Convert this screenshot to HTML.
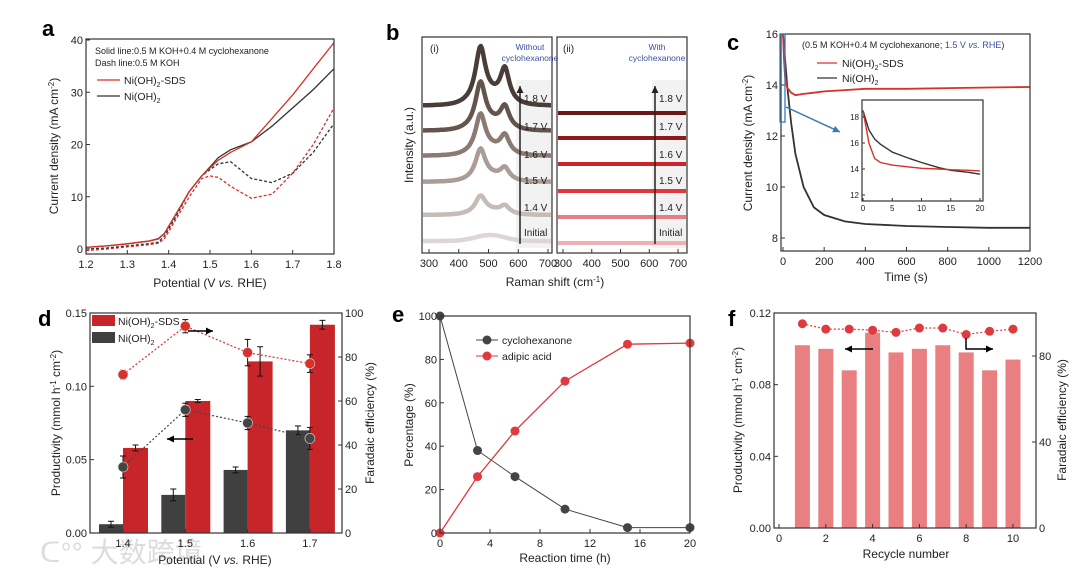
<!DOCTYPE html>
<html><head><meta charset="utf-8">
<style>
html,body{margin:0;padding:0;background:#fff;}
svg{display:block;font-family:"Liberation Sans","Noto Sans CJK SC",sans-serif;}
</style></head>
<body>
<svg id="fig" width="1080" height="577" viewBox="0 0 1080 577" xmlns="http://www.w3.org/2000/svg">
<defs>
<clipPath id="clipB1"><rect x="423" y="38" width="128" height="214"/></clipPath>
<clipPath id="clipB2"><rect x="558" y="38" width="128" height="214"/></clipPath>
</defs>
<text x="40" y="562" font-size="28" fill="#dcdcdc">ᑕ°° 大数跨境</text>
</svg>
<script>
// ---------- Panel a data ----------
const aX = [1.2,1.25,1.3,1.35,1.375,1.39,1.42,1.45,1.48,1.5,1.52,1.55,1.6,1.65,1.7,1.75,1.8];
const aSdsSolid = [0.3,0.6,1.0,1.5,1.9,3,7,11,14,15.5,17,18.5,20.5,25,29.5,34.5,39.5];
const aNiSolid = [0.3,0.6,1.0,1.5,2.0,3,7,11,14,15.7,17.5,19,20.5,23.5,27,30.5,34.5];
const aSdsDash = [-0.3,0,0.4,0.8,1.1,2,6,10,13.5,14,13.7,12,9.7,10.5,14.5,20,27];
const aNiDash = [0,0.2,0.6,1.0,1.3,2.5,6.5,11,14,15.2,16.3,16.7,13.5,12.7,14.5,18.5,24];
const aXTicks = [1.2,1.3,1.4,1.5,1.6,1.7,1.8];
const aYTicks = [0,10,20,30,40];
// ---------- Panel b data ----------
const bLabels = ["1.8 V","1.7 V","1.6 V","1.5 V","1.4 V","Initial"];
const bBase1 = [147,122,97,71,38,12];
const bPeak1 = [52,43,37,29,16,0];
const bPeak2 = [32,20,17,11,7,0];
const bBroad = [8,7,6,5,4,6];
const bBase2 = [140,115,89,62,36,10];
const bXTicks = [300,400,500,600,700];
// ---------- Panel c data ----------
const cT = [0,5,10,20,40,60,100,150,200,300,400,600,800,1000,1200];
const cSds = [16,15,14.3,13.9,13.7,13.6,13.65,13.7,13.75,13.8,13.85,13.85,13.88,13.9,13.92];
const cNi = [16,15.5,15,14,12.5,11.3,10,9.2,8.9,8.65,8.55,8.47,8.43,8.4,8.4];
const cInT = [0,1,2,3,5,8,10,13,15,18,20];
const cInSds = [18.5,16,14.8,14.5,14.3,14.15,14.05,14,13.95,13.9,13.85];
const cInNi = [18.5,17,16.3,15.9,15.3,14.8,14.5,14.1,13.9,13.75,13.6];
const cXTicks = [0,200,400,600,800,1000,1200];
const cYTicks = [8,10,12,14,16];
// ---------- Panel d data ----------
const dCats = ["1.4","1.5","1.6","1.7"];
const dNi = [0.006,0.026,0.043,0.070];
const dNiErr = [0.002,0.004,0.002,0.003];
const dSds = [0.058,0.090,0.117,0.142];
const dSdsErr = [0.002,0.001,0.010,0.003];
const dFeSds = [72,94,82,77];
const dFeSdsErr = [2,3,6,4];
const dFeNi = [30,56,50,43];
const dFeNiErr = [5,3,3,5];
const dYTicks = [0,0.05,0.10,0.15];
const dY2Ticks = [0,20,40,60,80,100];
// ---------- Panel e data ----------
const eT = [0,3,6,10,15,20];
const eCyc = [100,38,26,11,2.5,2.5];
const eAdi = [0,26,47,70,87,87.5];
const eXTicks = [0,4,8,12,16,20];
const eYTicks = [0,20,40,60,80,100];
// ---------- Panel f data ----------
const fN = [1,2,3,4,5,6,7,8,9,10];
const fProd = [0.102,0.100,0.088,0.109,0.098,0.100,0.102,0.098,0.088,0.094];
const fFe = [95,92.5,92.5,92,91,93,93,90,91.5,92.5];
const fXTicks = [0,2,4,6,8,10];
const fYTicks = [0,0.04,0.08,0.12];
const fY2Ticks = [0,40,80];

const svg = document.getElementById('fig');
const NS = 'http://www.w3.org/2000/svg';
function mk(tag, attrs, name, parent) {
  const el = document.createElementNS(NS, tag);
  for (const k in attrs) el.setAttribute(k, attrs[k]);
  
  
  (parent || svg).appendChild(el);
  return el;
}
function txt(x, y, s, size, name, extra) {
  const t = mk('text', Object.assign({x: x, y: y, 'font-size': size, fill: '#222'}, extra || {}), name);
  t.innerHTML = s;
  return t;
}
function lin(d0, d1, r0, r1) { return v => r0 + (v - d0) / (d1 - d0) * (r1 - r0); }
function pts(xs, ys, sx, sy) { return xs.map((x, i) => sx(x).toFixed(1) + ',' + sy(ys[i]).toFixed(1)).join(' '); }
function box(x0, y0, x1, y1, name) {
  mk('rect', {x: x0, y: y0, width: x1 - x0, height: y1 - y0, fill: 'none', stroke: '#333', 'stroke-width': 1.2}, name);
}
function xticks(ticks, sx, y, name, fmt, size) {
  ticks.forEach(t => {
    mk('line', {x1: sx(t), x2: sx(t), y1: y, y2: y - 4, stroke: '#333'}, name + '-tick');
    txt(sx(t), y + 14, fmt ? fmt(t) : t, size || 11, name + '-label', {'text-anchor': 'middle'});
  });
}
function yticks(ticks, sy, x, name, fmt, right, size) {
  ticks.forEach(t => {
    mk('line', {x1: x, x2: right ? x - 4 : x + 4, y1: sy(t), y2: sy(t), stroke: '#333'}, name + '-tick');
    txt(right ? x + 3 : x - 3, sy(t) + 4, fmt ? fmt(t) : t, size || 11, name + '-label', {'text-anchor': right ? 'start' : 'end'});
  });
}
function ytitle(x, y, s, name) {
  txt(0, 0, s, 12, name, {'text-anchor': 'middle', transform: 'translate(' + x + ',' + y + ') rotate(-90)'});
}
function arrow(x1, y1, x2, y2, color, name) {
  mk('line', {x1: x1, y1: y1, x2: x2, y2: y2, stroke: color, 'stroke-width': 1.5}, name);
  const a = Math.atan2(y2 - y1, x2 - x1), L = 7, W = 3.5;
  const p = [[x2, y2], [x2 - L * Math.cos(a) + W * Math.sin(a), y2 - L * Math.sin(a) - W * Math.cos(a)], [x2 - L * Math.cos(a) - W * Math.sin(a), y2 - L * Math.sin(a) + W * Math.cos(a)]];
  mk('polygon', {points: p.map(q => q.join(',')).join(' '), fill: color}, name + '-head');
}
const RED = '#d9302a', BLK = '#333';

// ===== Panel a =====
{
  const sx = lin(1.2, 1.8, 86, 334), sy = lin(0, 40, 249, 40);
  txt(42, 36, 'a', 22, 'panel-a-label', {'font-weight': 'bold', fill: '#000'});
  mk('polyline', {points: pts(aX, aSdsDash, sx, sy), fill: 'none', stroke: RED, 'stroke-width': 1.3, 'stroke-dasharray': '3,2'}, 'sds-dash-line');
  mk('polyline', {points: pts(aX, aNiDash, sx, sy), fill: 'none', stroke: BLK, 'stroke-width': 1.3, 'stroke-dasharray': '3,2'}, 'ni-dash-line');
  mk('polyline', {points: pts(aX, aNiSolid, sx, sy), fill: 'none', stroke: BLK, 'stroke-width': 1.3}, 'ni-solid-line');
  mk('polyline', {points: pts(aX, aSdsSolid, sx, sy), fill: 'none', stroke: RED, 'stroke-width': 1.3}, 'sds-solid-line');
  box(86, 39, 334, 254, 'panel-a-axes');
  xticks(aXTicks, sx, 254, 'a-x', t => t.toFixed(1));
  yticks(aYTicks, sy, 86, 'a-y');
  txt(210, 287, 'Potential (V <tspan font-style="italic">vs.</tspan> RHE)', 12, 'a-x-title', {'text-anchor': 'middle'});
  ytitle(58, 146, 'Current density (mA cm<tspan dy="-4" font-size="8">-2</tspan><tspan dy="4">)</tspan>', 'a-y-title');
  txt(95, 54, 'Solid line:0.5 M KOH+0.4 M cyclohexanone', 9, 'a-note-solid');
  txt(95, 66, 'Dash line:0.5 M KOH', 9, 'a-note-dash');
  mk('line', {x1: 97, x2: 120, y1: 80, y2: 80, stroke: RED, 'stroke-width': 1.3}, 'a-legend-sds-line');
  txt(124, 84, 'Ni(OH)<tspan font-size="7" dy="3">2</tspan><tspan dy="-3">-SDS</tspan>', 10.5, 'a-legend-sds');
  mk('line', {x1: 97, x2: 120, y1: 96, y2: 96, stroke: BLK, 'stroke-width': 1.3}, 'a-legend-ni-line');
  txt(124, 100, 'Ni(OH)<tspan font-size="7" dy="3">2</tspan>', 10.5, 'a-legend-ni');
}

// ===== Panel b =====
{
  txt(386, 40, 'b', 22, 'panel-b-label', {'font-weight': 'bold', fill: '#000'});
  const sy = lin(0, 220, 253, 33);
  const sx1 = lin(300, 700, 429, 548), sx2 = lin(300, 700, 563, 678);
  mk('rect', {x: 516, y: 80, width: 36, height: 168, fill: '#f2f2f2'}, 'b1-label-shade');
  mk('rect', {x: 652, y: 80, width: 35, height: 168, fill: '#f2f2f2'}, 'b2-label-shade');
  const g1 = mk('g', {'clip-path': 'url(#clipB1)'}, 'b1-spectra');
  const g2 = mk('g', {'clip-path': 'url(#clipB2)'}, 'b2-spectra');
  const cols1 = ['#4a3c36', '#63554e', '#8a7a72', '#ab9d96', '#c5bcb7', '#dcd7d4'];
  const cols2 = ['#6e1717', '#8e1b1b', '#c8262a', '#e0383c', '#e77f82', '#efb0b2'];
  const grid = [];
  for (let w = 270; w <= 730; w += 4) grid.push(w);
  bBase1.forEach((b, i) => {
    const ys = grid.map(w => b + bPeak1[i] / (1 + Math.pow((w - 473) / 20, 2)) + bPeak2[i] / (1 + Math.pow((w - 555) / 18, 2)) + bBroad[i] * Math.exp(-Math.pow((w - 505) / 70, 2)));
    mk('polyline', {points: pts(grid, ys, sx1, sy), fill: 'none', stroke: cols1[i], 'stroke-width': 4.5, 'stroke-linecap': 'round', 'stroke-linejoin': 'round'}, 'spectrum-i-' + i, g1);
  });
  bBase2.forEach((b, i) => {
    const ys = grid.map(() => b);
    mk('polyline', {points: pts(grid, ys, sx2, sy), fill: 'none', stroke: cols2[i], 'stroke-width': 4}, 'spectrum-ii-' + i, g2);
  });
  const labY = [98, 126, 154, 180, 207, 232];
  bLabels.forEach((l, i) => {
    txt(524, labY[i] + 4, l, 10, 'b1-label');
    txt(659, labY[i] + 4, l, 10, 'b2-label');
  });
  arrow(520, 244, 520, 86, '#222', 'b1-arrow');
  arrow(655, 244, 655, 86, '#222', 'b2-arrow');
  box(422, 37, 552, 253, 'panel-b1-axes');
  box(557, 37, 687, 253, 'panel-b2-axes');
  xticks(bXTicks, sx1, 253, 'b1-x');
  xticks(bXTicks, sx2, 253, 'b2-x');
  txt(430, 52, '(i)', 10, 'b1-tag');
  txt(563, 52, '(ii)', 10, 'b2-tag');
  txt(530, 50, 'Without', 8.5, 'b1-cond1', {'text-anchor': 'middle', fill: '#3b4fa0'});
  txt(530, 61, 'cyclohexanone', 8.5, 'b1-cond2', {'text-anchor': 'middle', fill: '#3b4fa0'});
  txt(657, 50, 'With', 8.5, 'b2-cond1', {'text-anchor': 'middle', fill: '#3b4fa0'});
  txt(657, 61, 'cyclohexanone', 8.5, 'b2-cond2', {'text-anchor': 'middle', fill: '#3b4fa0'});
  txt(555, 286, 'Raman shift (cm<tspan dy="-4" font-size="8">-1</tspan><tspan dy="4">)</tspan>', 12, 'b-x-title', {'text-anchor': 'middle'});
  ytitle(413, 145, 'Intensity (a.u.)', 'b-y-title');
}

// ===== Panel c =====
{
  txt(727, 50, 'c', 22, 'panel-c-label', {'font-weight': 'bold', fill: '#000'});
  const sx = lin(0, 1200, 783, 1030), sy = lin(8, 16, 238, 34);
  mk('polyline', {points: pts(cT, cNi, sx, sy), fill: 'none', stroke: BLK, 'stroke-width': 1.8}, 'c-ni-line');
  mk('polyline', {points: pts(cT, cSds, sx, sy), fill: 'none', stroke: RED, 'stroke-width': 1.8}, 'c-sds-line');
  box(781, 34, 1030, 251, 'panel-c-axes');
  xticks(cXTicks, sx, 251, 'c-x');
  yticks(cYTicks, sy, 781, 'c-y');
  mk('rect', {x: 780, y: 34, width: 5, height: 88, fill: 'none', stroke: '#3a78b5', 'stroke-width': 1.3}, 'c-zoom-box');
  arrow(786, 107, 840, 132, '#3a78b5', 'c-zoom-arrow');
  txt(802, 48, '(0.5 M KOH+0.4 M cyclohexanone; <tspan fill="#3b4fa0">1.5 V <tspan font-style="italic">vs.</tspan> RHE</tspan>)', 9, 'c-condition');
  mk('line', {x1: 817, x2: 837, y1: 63, y2: 63, stroke: RED, 'stroke-width': 1.3}, 'c-legend-sds-line');
  txt(842, 67, 'Ni(OH)<tspan font-size="7" dy="3">2</tspan><tspan dy="-3">-SDS</tspan>', 10.5, 'c-legend-sds');
  mk('line', {x1: 817, x2: 837, y1: 78, y2: 78, stroke: BLK, 'stroke-width': 1.3}, 'c-legend-ni-line');
  txt(842, 82, 'Ni(OH)<tspan font-size="7" dy="3">2</tspan>', 10.5, 'c-legend-ni');
  const ix = lin(0, 20, 863, 980), iy = lin(12, 18, 195, 117);
  mk('rect', {x: 862, y: 100, width: 121, height: 101, fill: '#fff'}, 'inset-bg');
  mk('polyline', {points: pts(cInT, cInNi, ix, iy), fill: 'none', stroke: BLK, 'stroke-width': 1.4}, 'inset-ni-line');
  mk('polyline', {points: pts(cInT, cInSds, ix, iy), fill: 'none', stroke: RED, 'stroke-width': 1.4}, 'inset-sds-line');
  box(862, 100, 983, 201, 'inset-axes');
  [0, 5, 10, 15, 20].forEach(t => {
    mk('line', {x1: ix(t), x2: ix(t), y1: 201, y2: 198, stroke: '#333'}, 'inset-x-tick');
    txt(ix(t), 211, t, 8, 'inset-x-label', {'text-anchor': 'middle'});
  });
  [12, 14, 16, 18].forEach(t => {
    mk('line', {x1: 862, x2: 865, y1: iy(t), y2: iy(t), stroke: '#333'}, 'inset-y-tick');
    txt(859, iy(t) + 3, t, 8, 'inset-y-label', {'text-anchor': 'end'});
  });
  txt(906, 281, 'Time (s)', 12, 'c-x-title', {'text-anchor': 'middle'});
  ytitle(752, 143, 'Current density (mA cm<tspan dy="-4" font-size="8">-2</tspan><tspan dy="4">)</tspan>', 'c-y-title');
}

// ===== Panel d =====
{
  txt(38, 326, 'd', 22, 'panel-d-label', {'font-weight': 'bold', fill: '#000'});
  const sy = lin(0, 0.15, 533, 313), sy2 = lin(0, 100, 533, 313);
  const cx = i => 123 + i * 62.3;
  dCats.forEach((c, i) => {
    const x = cx(i);
    mk('rect', {x: x - 24, y: sy(dNi[i]), width: 24, height: 533 - sy(dNi[i]), fill: '#404040'}, 'bar-ni-' + c);
    mk('rect', {x: x, y: sy(dSds[i]), width: 25, height: 533 - sy(dSds[i]), fill: '#c8252a'}, 'bar-sds-' + c);
    [[x - 12, dNi[i], dNiErr[i]], [x + 12.5, dSds[i], dSdsErr[i]]].forEach(e => {
      mk('line', {x1: e[0], x2: e[0], y1: sy(e[1] - e[2]), y2: sy(e[1] + e[2]), stroke: '#111'}, 'bar-error');
      mk('line', {x1: e[0] - 3, x2: e[0] + 3, y1: sy(e[1] + e[2]), y2: sy(e[1] + e[2]), stroke: '#111'}, 'bar-error-cap');
      mk('line', {x1: e[0] - 3, x2: e[0] + 3, y1: sy(e[1] - e[2]), y2: sy(e[1] - e[2]), stroke: '#111'}, 'bar-error-cap');
    });
  });
  const xs = dCats.map((c, i) => i);
  mk('polyline', {points: pts(xs, dFeSds, cx, sy2), fill: 'none', stroke: RED, 'stroke-width': 1.2, 'stroke-dasharray': '2,2'}, 'fe-sds-line');
  mk('polyline', {points: pts(xs, dFeNi, cx, sy2), fill: 'none', stroke: '#444', 'stroke-width': 1.2, 'stroke-dasharray': '2,2'}, 'fe-ni-line');
  [[dFeSds, dFeSdsErr, RED, 'fe-sds'], [dFeNi, dFeNiErr, '#444', 'fe-ni']].forEach(s => {
    s[0].forEach((v, i) => {
      mk('line', {x1: cx(i), x2: cx(i), y1: sy2(v - s[1][i]), y2: sy2(v + s[1][i]), stroke: '#111'}, s[3] + '-error');
      mk('line', {x1: cx(i) - 3, x2: cx(i) + 3, y1: sy2(v + s[1][i]), y2: sy2(v + s[1][i]), stroke: '#111'}, s[3] + '-error-cap');
      mk('line', {x1: cx(i) - 3, x2: cx(i) + 3, y1: sy2(v - s[1][i]), y2: sy2(v - s[1][i]), stroke: '#111'}, s[3] + '-error-cap');
      mk('circle', {cx: cx(i), cy: sy2(v), r: 5, fill: s[2], stroke: '#ddd', 'stroke-width': 0.6}, s[3] + '-point');
    });
  });
  box(90, 313, 342, 533, 'panel-d-axes');
  dCats.forEach((c, i) => {
    mk('line', {x1: cx(i), x2: cx(i), y1: 533, y2: 529, stroke: '#333'}, 'd-x-tick');
    txt(cx(i), 547, c, 11, 'd-x-label', {'text-anchor': 'middle'});
  });
  yticks(dYTicks, sy, 90, 'd-y', t => t.toFixed(2));
  yticks(dY2Ticks, sy2, 342, 'd-y2', null, true);
  mk('rect', {x: 92, y: 315, width: 23, height: 11, fill: '#c8252a'}, 'd-legend-sds-swatch');
  txt(118, 325, 'Ni(OH)<tspan font-size="7" dy="3">2</tspan><tspan dy="-3">-SDS</tspan>', 10.5, 'd-legend-sds');
  mk('rect', {x: 92, y: 332, width: 23, height: 11, fill: '#404040'}, 'd-legend-ni-swatch');
  txt(118, 342, 'Ni(OH)<tspan font-size="7" dy="3">2</tspan>', 10.5, 'd-legend-ni');
  arrow(188, 331, 213, 331, '#000', 'd-arrow-right');
  arrow(193, 439, 167, 439, '#000', 'd-arrow-left');
  txt(215, 564, 'Potential (V <tspan font-style="italic">vs.</tspan> RHE)', 12, 'd-x-title', {'text-anchor': 'middle'});
  ytitle(60, 423, 'Productivity (mmol h<tspan dy="-4" font-size="8">-1</tspan><tspan dy="4"> cm</tspan><tspan dy="-4" font-size="8">-2</tspan><tspan dy="4">)</tspan>', 'd-y-title');
  txt(0, 0, 'Faradaic efficiency (%)', 12, 'd-y2-title', {'text-anchor': 'middle', transform: 'translate(374,423) rotate(-90)'});
}

// ===== Panel e =====
{
  txt(392, 322, 'e', 22, 'panel-e-label', {'font-weight': 'bold', fill: '#000'});
  const sx = lin(0, 20, 440, 690), sy = lin(0, 100, 533, 316);
  mk('polyline', {points: pts(eT, eCyc, sx, sy), fill: 'none', stroke: '#444', 'stroke-width': 1}, 'e-cyc-line');
  mk('polyline', {points: pts(eT, eAdi, sx, sy), fill: 'none', stroke: '#e0393e', 'stroke-width': 1.3}, 'e-adi-line');
  eT.forEach((t, i) => {
    mk('circle', {cx: sx(t), cy: sy(eCyc[i]), r: 4.5, fill: '#444'}, 'e-cyc-point');
    mk('circle', {cx: sx(t), cy: sy(eAdi[i]), r: 4.5, fill: '#e0393e'}, 'e-adi-point');
  });
  box(440, 316, 690, 533, 'panel-e-axes');
  xticks(eXTicks, sx, 533, 'e-x');
  yticks(eYTicks, sy, 440, 'e-y');
  mk('line', {x1: 476, x2: 498, y1: 340, y2: 340, stroke: '#444'}, 'e-legend-cyc-line');
  mk('circle', {cx: 487, cy: 340, r: 4.5, fill: '#444'}, 'e-legend-cyc-marker');
  txt(502, 344, 'cyclohexanone', 10.5, 'e-legend-cyc');
  mk('line', {x1: 476, x2: 498, y1: 356, y2: 356, stroke: '#e0393e'}, 'e-legend-adi-line');
  mk('circle', {cx: 487, cy: 356, r: 4.5, fill: '#e0393e'}, 'e-legend-adi-marker');
  txt(502, 360, 'adipic acid', 10.5, 'e-legend-adi');
  txt(565, 562, 'Reaction time (h)', 12, 'e-x-title', {'text-anchor': 'middle'});
  ytitle(413, 425, 'Percentage (%)', 'e-y-title');
}

// ===== Panel f =====
{
  txt(728, 326, 'f', 22, 'panel-f-label', {'font-weight': 'bold', fill: '#000'});
  const sx = lin(0, 10, 779, 1013), sy = lin(0, 0.12, 528, 313), sy2 = lin(0, 100, 528, 313);
  fN.forEach((n, i) => {
    mk('rect', {x: sx(n) - 7.5, y: sy(fProd[i]), width: 15, height: 528 - sy(fProd[i]), fill: '#e97f80'}, 'bar-cycle-' + n);
  });
  mk('polyline', {points: pts(fN, fFe, sx, sy2), fill: 'none', stroke: '#e0393e', 'stroke-width': 1.2, 'stroke-dasharray': '2,2'}, 'f-fe-line');
  fN.forEach((n, i) => {
    mk('circle', {cx: sx(n), cy: sy2(fFe[i]), r: 4.5, fill: '#e0393e'}, 'f-fe-point');
  });
  box(774, 313, 1036, 528, 'panel-f-axes');
  xticks(fXTicks, sx, 528, 'f-x');
  yticks(fYTicks, sy, 774, 'f-y', t => t.toFixed(2));
  yticks(fY2Ticks, sy2, 1036, 'f-y2', null, true);
  arrow(873, 349, 845, 349, '#000', 'f-arrow-left');
  mk('polyline', {points: '966,338 966,349 985,349', fill: 'none', stroke: '#000', 'stroke-width': 1.5}, 'f-arrow-right');
  arrow(984, 349, 993, 349, '#000', 'f-arrow-right-head');
  txt(906, 558, 'Recycle number', 12, 'f-x-title', {'text-anchor': 'middle'});
  ytitle(742, 420, 'Productivity (mmol h<tspan dy="-4" font-size="8">-1</tspan><tspan dy="4"> cm</tspan><tspan dy="-4" font-size="8">-2</tspan><tspan dy="4">)</tspan>', 'f-y-title');
  txt(0, 0, 'Faradaic efficiency (%)', 12, 'f-y2-title', {'text-anchor': 'middle', transform: 'translate(1066,420) rotate(-90)'});
}
</script>
</body></html>
